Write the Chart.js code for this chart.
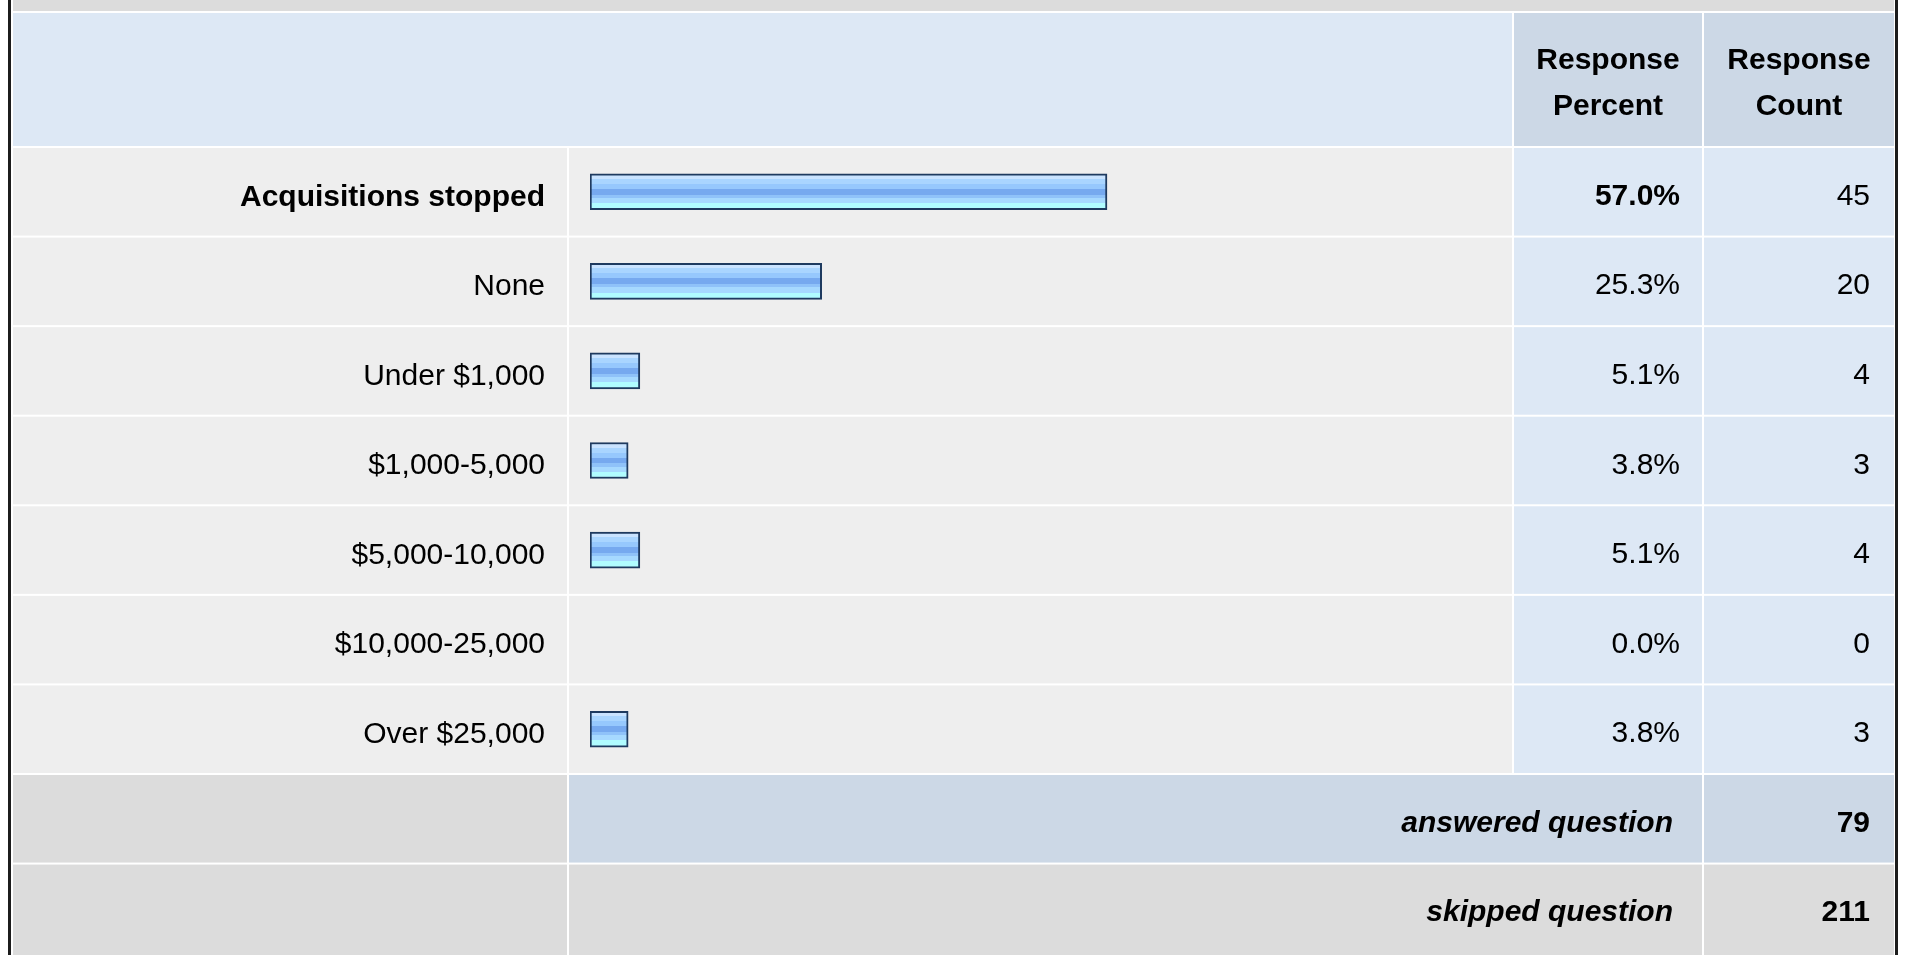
<!DOCTYPE html>
<html>
<head>
<meta charset="utf-8">
<script src="https://cdn.jsdelivr.net/npm/chart.js@4.4.1/dist/chart.umd.min.js"></script>
<style>
html,body{margin:0;padding:0;background:#ffffff;overflow:hidden}
#wrap{width:1909px;height:955px;position:relative}
</style>
</head>
<body>
<div id="wrap"><canvas id="c"></canvas></div>
<script>
// ---- data ----
const categories = ['Acquisitions stopped', 'None', 'Under $1,000', '$1,000-5,000', '$5,000-10,000', '$10,000-25,000', 'Over $25,000'];
const responsePercent = [57.0, 25.3, 5.1, 3.8, 5.1, 0.0, 3.8];
const responseCount = [45, 20, 4, 3, 4, 0, 3];
const headerPercent = ['Response', 'Percent'];
const headerCount = ['Response', 'Count'];
const summaryLabels = ['answered question', 'skipped question'];
const summaryCounts = [79, 211];

// ---- styling ----
const FONT = "'Liberation Sans', Arial, Helvetica, sans-serif";
const COLORS = {
  band: '#dcdcdc', head: '#dde8f5', headDark: '#ccd8e6',
  row: '#eeeeee', rowBlue: '#dde8f5', border: '#1c1c1c',
  barBorder: '#1e3a5f', text: '#000000'
};
const COL = { x0: 13, c1: 567, c2s: 569, c2: 1512, c3s: 1514, c3: 1702, c4s: 1704, c4: 1894 };
const BAR_H = 36;
const BANDS = [
  [0.00, '#c9e3ff'], [0.14, '#a9d5ff'], [0.28, '#96c8fd'], [0.42, '#76a9ef'],
  [0.58, '#8fc2f9'], [0.67, '#a6d9ff'], [0.81, '#b0fcff'], [1.00, '#b0fcff']
];

function barFill(context) {
  if (context.raw === 0) return 'rgba(0,0,0,0)';
  const chart = context.chart, y = chart.scales && chart.scales.y;
  if (!y || context.type !== 'data') return '#96c8fd';
  const cy = y.getPixelForValue(context.dataIndex);
  if (!isFinite(cy)) return '#96c8fd';
  const top = cy - BAR_H / 2;
  const g = chart.ctx.createLinearGradient(0, top, 0, top + BAR_H);
  for (let i = 0; i < BANDS.length - 1; i++) {
    g.addColorStop(BANDS[i][0], BANDS[i][1]);
    g.addColorStop(Math.max(BANDS[i][0], BANDS[i + 1][0] - 0.0001), BANDS[i][1]);
  }
  g.addColorStop(1, BANDS[BANDS.length - 1][1]);
  return g;
}

const tablePlugin = {
  id: 'surveyTable',
  beforeDraw(chart) {
    const ctx = chart.ctx, y = chart.scales.y, H = chart.height;
    const c0 = y.getPixelForValue(0);
    const pitch = y.getPixelForValue(1) - c0;
    const rowTop = i => c0 + (i - 0.5) * pitch + 1;
    const rowBot = i => c0 + (i + 0.5) * pitch - 1;
    const fill = (x1, y1, x2, y2, col) => { ctx.fillStyle = col; ctx.fillRect(x1, y1, x2 - x1, y2 - y1); };
    ctx.save();
    fill(0, 0, chart.width, H, '#ffffff');
    // top band
    fill(COL.x0, 0, COL.c4, 11, COLORS.band);
    // header row
    const hTop = 13, hBot = rowTop(0) - 2;
    fill(COL.x0, hTop, COL.c2, hBot, COLORS.head);
    fill(COL.c3s, hTop, COL.c3, hBot, COLORS.headDark);
    fill(COL.c4s, hTop, COL.c4, hBot, COLORS.headDark);
    // data rows
    categories.forEach((_, i) => {
      const t = rowTop(i), b = rowBot(i);
      fill(COL.x0, t, COL.c1, b, COLORS.row);
      fill(COL.c2s, t, COL.c2, b, COLORS.row);
      fill(COL.c3s, t, COL.c3, b, COLORS.rowBlue);
      fill(COL.c4s, t, COL.c4, b, COLORS.rowBlue);
    });
    // summary rows
    summaryLabels.forEach((_, k) => {
      const i = categories.length + k;
      const t = rowTop(i), b = (k === summaryLabels.length - 1) ? H : rowBot(i);
      const mid = k === 0 ? COLORS.headDark : COLORS.band;
      fill(COL.x0, t, COL.c1, b, COLORS.band);
      fill(COL.c2s, t, COL.c3, b, mid);
      fill(COL.c4s, t, COL.c4, b, mid);
    });
    // outer borders
    fill(8, 0, 11, H, COLORS.border);
    fill(1895, 0, 1898, H, COLORS.border);
    ctx.restore();
  },
  afterDraw(chart) {
    const ctx = chart.ctx, y = chart.scales.y;
    const c0 = y.getPixelForValue(0);
    const pitch = y.getPixelForValue(1) - c0;
    ctx.save();
    ctx.fillStyle = COLORS.text;
    ctx.textBaseline = 'alphabetic';
    // header
    ctx.textAlign = 'center';
    ctx.font = 'bold 30px ' + FONT;
    const xP = (COL.c3s + COL.c3) / 2, xC = (COL.c4s + COL.c4) / 2;
    ctx.fillText(headerPercent[0], xP, 69);
    ctx.fillText(headerPercent[1], xP, 115);
    ctx.fillText(headerCount[0], xC, 69);
    ctx.fillText(headerCount[1], xC, 115);
    // data values
    ctx.textAlign = 'right';
    categories.forEach((_, i) => {
      const cy = y.getPixelForValue(i);
      ctx.font = (i === 0 ? 'bold ' : '') + '30px ' + FONT;
      ctx.fillText(responsePercent[i].toFixed(1) + '%', 1680, cy + 13);
      ctx.font = '30px ' + FONT;
      ctx.fillText(String(responseCount[i]), 1870, cy + 13);
    });
    // summary
    summaryLabels.forEach((lab, k) => {
      const cy = c0 + (categories.length + k) * pitch;
      ctx.font = 'italic bold 30px ' + FONT;
      ctx.fillText(lab, 1673, cy + 13);
      ctx.font = 'bold 30px ' + FONT;
      ctx.fillText(String(summaryCounts[k]), 1870, cy + 13);
    });
    ctx.restore();
  }
};

new Chart(document.getElementById('c'), {
  type: 'bar',
  data: {
    labels: categories,
    datasets: [{
      data: responsePercent,
      base: -0.44,
      backgroundColor: barFill,
      borderColor: COLORS.barBorder,
      borderWidth: ctx => (ctx.raw === 0 ? 0 : 2),
      borderSkipped: false,
      barThickness: BAR_H
    }]
  },
  options: {
    indexAxis: 'y',
    responsive: true,
    maintainAspectRatio: false,
    animation: false,
    devicePixelRatio: 1,
    layout: { padding: { top: 147, bottom: 181, left: 0, right: 415 } },
    plugins: { legend: { display: false }, tooltip: { enabled: false }, title: { display: false } },
    scales: {
      x: { display: false, min: -0.44, max: 100 },
      y: {
        position: 'left',
        grid: { display: false, drawTicks: false },
        border: { display: false },
        afterFit: s => { s.width = 590; },
        ticks: {
          autoSkip: false,
          padding: 45,
          labelOffset: 5.5,
          color: COLORS.text,
          font: c => ({ family: FONT, size: 30, weight: c.index === 0 ? 'bold' : 'normal' })
        }
      }
    }
  },
  plugins: [tablePlugin]
});
</script>
</body>
</html>
